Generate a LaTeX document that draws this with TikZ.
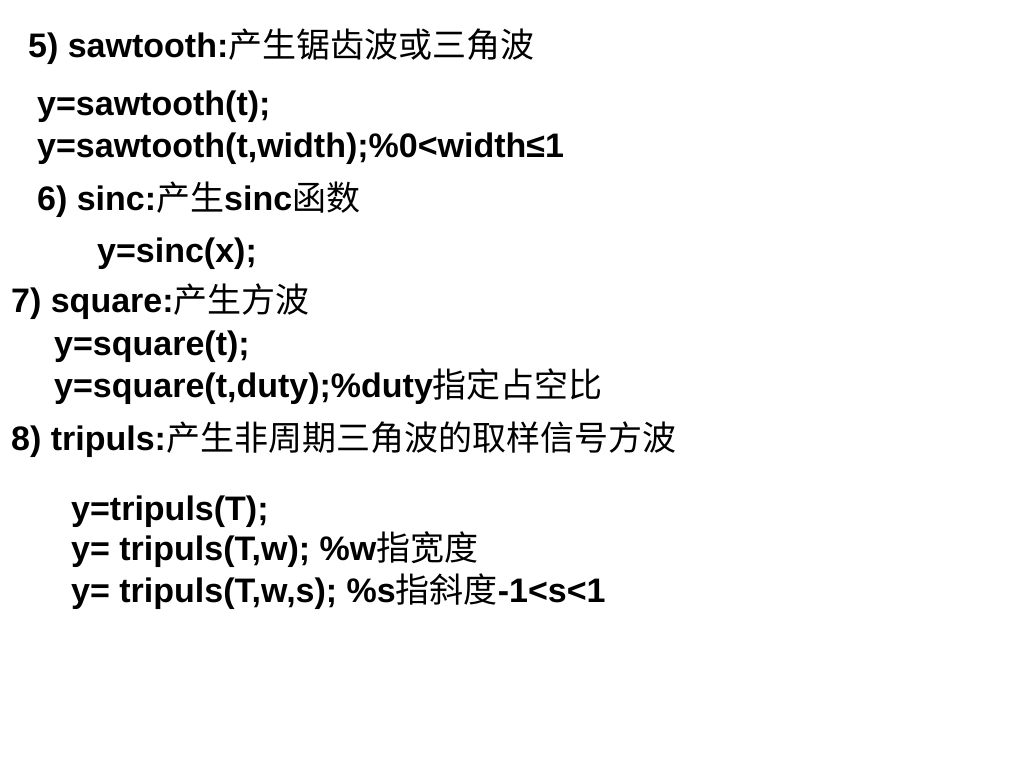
\documentclass[tikz,border=0pt]{standalone}
\usepackage{fontspec}
\setmainfont{Liberation Sans}
\newfontfamily\cjk{Noto Sans CJK SC}
\begin{document}
\begin{tikzpicture}[x=1pt,y=-1pt,
  txt/.style={anchor=base west,inner sep=0pt,font=\fontsize{34}{40}\selectfont\bfseries}]
\useasboundingbox[fill=white] (0,0) rectangle (1024,768);
\node[txt] (l1) at (28,57) {5) sawtooth:{\cjk\mdseries 产生锯齿波或三角波}};
\node[txt] (l2) at (37,115) {y=sawtooth(t);};
\node[txt] (l3) at (37,157) {y=sawtooth(t,width);\%0<width≤1};
\node[txt] (l4) at (37,210) {6) sinc:{\cjk\mdseries 产生}sinc{\cjk\mdseries 函数}};
\node[txt] (l5) at (97,262) {y=sinc(x);};
\node[txt] (l6) at (11,312) {7) square:{\cjk\mdseries 产生方波}};
\node[txt] (l7) at (54,355) {y=square(t);};
\node[txt] (l8) at (54,397) {y=square(t,duty);\%duty{\cjk\mdseries 指定占空比}};
\node[txt] (l9) at (11,450) {8) tripuls:{\cjk\mdseries 产生非周期三角波的取样信号方波}};
\node[txt] (l10) at (71,520) {y=tripuls(T);};
\node[txt] (l11) at (71,560) {y= tripuls(T,w); \%w{\cjk\mdseries 指宽度}};
\node[txt] (l12) at (71,602) {y= tripuls(T,w,s); \%s{\cjk\mdseries 指斜度}-1<s<1};
\end{tikzpicture}
\end{document}
